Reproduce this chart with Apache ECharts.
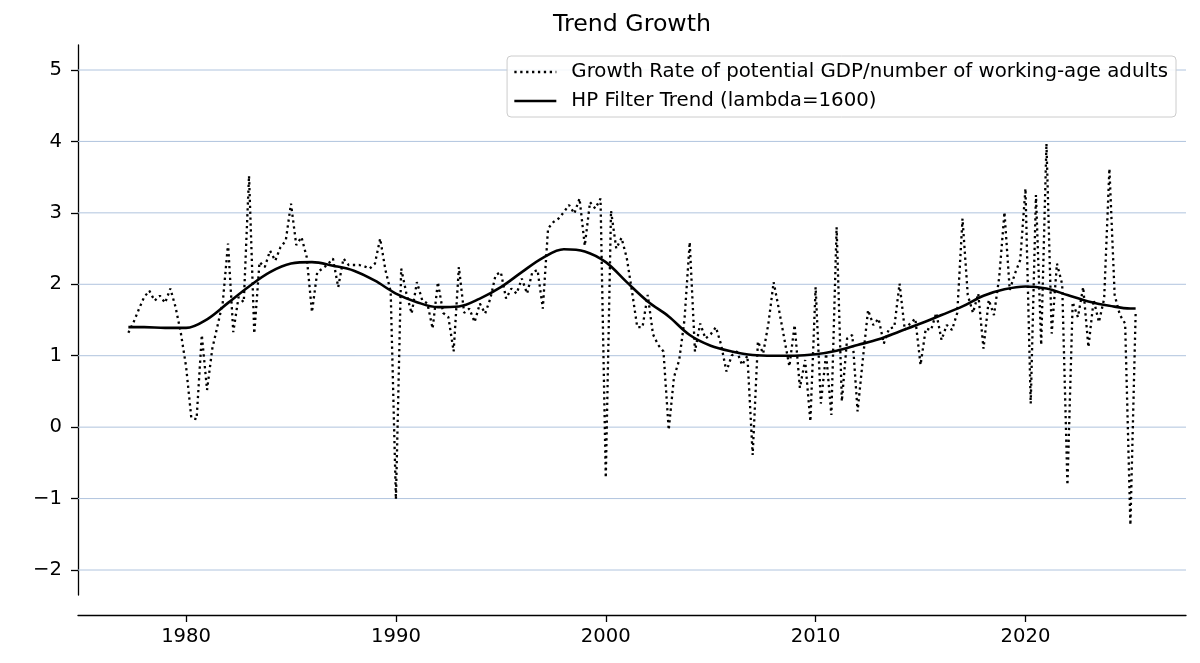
<!DOCTYPE html>
<html>
<head>
<meta charset="utf-8">
<script src="https://cdn.jsdelivr.net/npm/echarts@6/dist/echarts.min.js"></script>
<style>
html,body{margin:0;padding:0;background:#fff;}
#chart{width:1200px;height:663px;}
</style>
</head>
<body>
<div id="chart"></div>
<script>
// Quarterly series, starting 1977 Q2
const startYear = 1977;
const startQuarter = 2;
const growth = [
 1.32,1.47,1.65,1.82,1.91,1.77,1.84,1.74,1.94,1.68,
 1.32,0.85,0.13,0.11,1.29,0.52,1.10,1.42,1.75,2.57,
 1.33,1.82,1.75,3.52,1.31,2.31,2.24,2.47,2.33,2.52,
 2.61,3.13,2.55,2.66,2.38,1.61,2.17,2.22,2.28,2.36,
 1.96,2.36,2.27,2.27,2.27,2.25,2.22,2.29,2.64,2.20,
 1.90,-1.01,2.22,1.87,1.59,2.03,1.78,1.73,1.38,2.03,
 1.60,1.54,1.06,2.24,1.60,1.66,1.47,1.73,1.59,1.80,
 2.13,2.17,1.80,1.94,1.87,2.08,1.87,2.17,2.20,1.66,
 2.78,2.87,2.92,3.01,3.11,2.99,3.20,2.54,3.15,3.06,
 3.20,-0.71,3.03,2.50,2.65,2.37,1.90,1.40,1.40,1.85,
 1.30,1.15,1.06,-0.04,0.70,0.94,1.50,2.59,1.06,1.45,
 1.24,1.30,1.40,1.15,0.78,1.00,1.06,0.87,1.00,-0.39,
 1.20,1.03,1.45,2.03,1.65,1.25,0.85,1.43,0.55,0.94,
 0.08,1.96,0.33,1.03,0.17,2.80,0.36,1.24,1.29,0.22,
 0.95,1.64,1.43,1.52,1.17,1.38,1.40,2.01,1.36,1.45,
 1.52,0.87,1.38,1.36,1.60,1.22,1.43,1.36,1.60,2.92,
 1.85,1.60,1.87,1.10,1.78,1.57,2.10,3.01,1.92,2.15,
 2.34,3.34,0.33,3.25,1.15,3.97,1.31,2.29,2.00,-0.81,
 1.75,1.54,1.96,1.12,1.78,1.47,1.80,3.62,1.85,1.57,
 1.45,-1.37,1.59
];
const trendYears = [1977.25,1978,1979,1980,1981,1982,1983,1984,1985,1986,1987,1988,1989,1990,1991,1992,1993,1994,1995,1996,1997,1998,1999,2000,2001,2002,2003,2004,2005,2006,2007,2008,2009,2010,2011,2012,2013,2014,2015,2016,2017,2018,2019,2020,2021,2022,2023,2024,2025,2025.25];
const trendValues = [1.40,1.40,1.39,1.39,1.51,1.74,1.97,2.17,2.29,2.31,2.26,2.19,2.05,1.87,1.75,1.68,1.69,1.80,1.96,2.17,2.37,2.49,2.46,2.31,2.03,1.76,1.55,1.29,1.14,1.06,1.01,1.00,1.00,1.02,1.07,1.15,1.23,1.34,1.45,1.57,1.69,1.84,1.93,1.97,1.94,1.85,1.76,1.70,1.66,1.66];
const xTicks = [1980,1990,2000,2010,2020];
const yTicks = [-2,-1,0,1,2,3,4,5];
const seriesNames = ['Growth Rate of potential GDP/number of working-age adults','HP Filter Trend (lambda=1600)'];

const X_MIN = 1974.85, X_MAX = 2027.65;
const dates = growth.map((v,i)=> startYear + (startQuarter-1)/4 + i/4);
const growthData = growth.map((v,i)=>[dates[i], v]);
const trendData = trendValues.map((v,i)=>[trendYears[i], v]);

const FONT = 'DejaVu Sans';
const gridSeries = yTicks.map(v=>({
  name:'grid'+v, type:'line', data:[[X_MIN, v],[X_MAX, v]], symbol:'none', silent:true, z:1,
  lineStyle:{color:'#b0c4de', width:1}, emphasis:{disabled:true}, tooltip:{show:false}
}));

const chart = echarts.init(document.getElementById('chart'));
chart.setOption({
  animation:false,
  backgroundColor:'#ffffff',
  title:{
    text:'Trend Growth', left:632, top:13, textAlign:'center', padding:0,
    textStyle:{fontFamily:FONT, fontSize:23.7, fontWeight:'normal', color:'#000'}
  },
  legend:{
    data:seriesNames, orient:'vertical', right:24, top:56,
    itemWidth:42, itemHeight:14, itemGap:9,
    padding:[6,8,6,6],
    itemStyle:{opacity:0},
    lineStyle:{width:2.5},
    backgroundColor:'rgba(255,255,255,0.85)', borderColor:'#cccccc', borderWidth:1, borderRadius:4,
    textStyle:{fontFamily:FONT, fontSize:19.8, color:'#000', padding:[0,0,0,10]}
  },
  grid:{left:78, right:14, top:45, bottom:68, containLabel:false},
  xAxis:{
    type:'value', min:X_MIN, max:X_MAX, offset:20,
    axisLine:{show:true, onZero:false, lineStyle:{color:'#000', width:1.3}},
    axisTick:{show:true, length:7, customValues:xTicks, lineStyle:{color:'#000', width:1.3}},
    axisLabel:{customValues:xTicks, margin:12, fontFamily:FONT, fontSize:19.6, color:'#000',
      formatter:(v)=> String(v)},
    splitLine:{show:false}
  },
  yAxis:{
    type:'value', min:-2.35, max:5.35,
    axisLine:{show:true, onZero:false, lineStyle:{color:'#000', width:1.3}},
    axisTick:{show:true, length:7, customValues:yTicks, lineStyle:{color:'#000', width:1.3}},
    axisLabel:{customValues:yTicks, margin:16, fontFamily:FONT, fontSize:19.6, color:'#000',
      formatter:(v)=> String(v).replace('-', '\u2212')},
    splitLine:{show:false}
  },
  series: gridSeries.concat([
    {
      name:seriesNames[0], type:'line', data:growthData, symbol:'none', z:3,
      lineStyle:{color:'#000', width:2.3, type:[2.3,3.6], cap:'butt'},
      itemStyle:{color:'#000'}
    },
    {
      name:seriesNames[1], type:'line', data:trendData, symbol:'none', smooth:0.35, z:4,
      lineStyle:{color:'#000', width:2.6},
      itemStyle:{color:'#000'}
    }
  ])
});
</script>
</body>
</html>
